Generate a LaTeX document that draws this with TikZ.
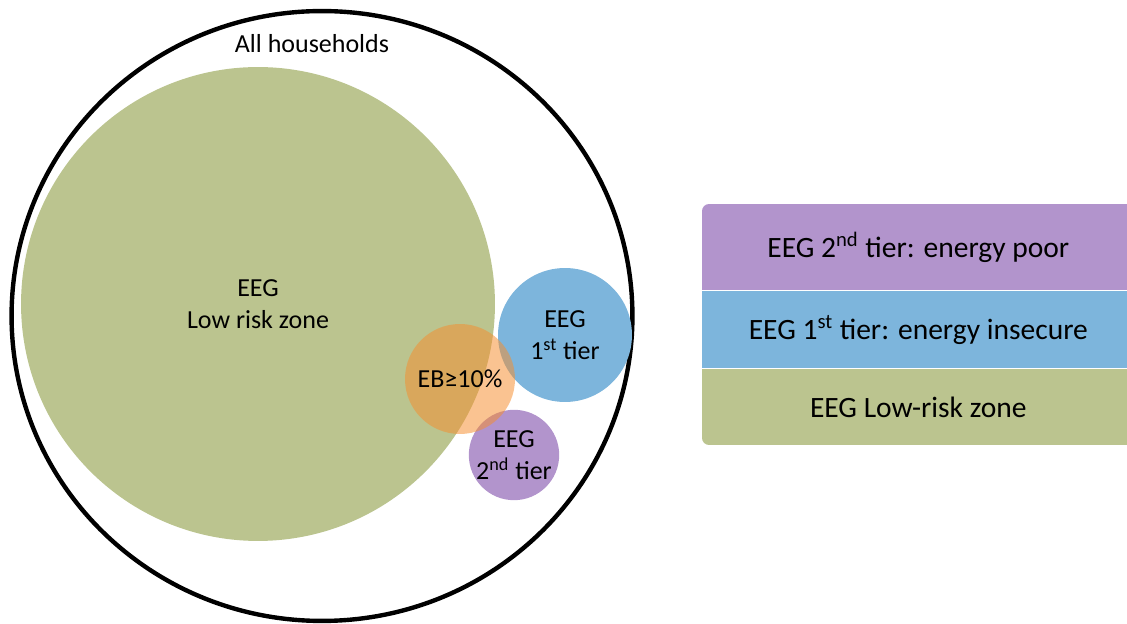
\documentclass[tikz,border=0pt]{standalone}
\usepackage{fontspec}
\setmainfont{Carlito}
\usetikzlibrary{positioning,shapes.geometric}
\definecolor{lowgreen}{RGB}{187,196,143}
\definecolor{tierblue}{RGB}{125,181,220}
\definecolor{tierpurple}{RGB}{178,148,204}
\definecolor{burdenorange}{RGB}{245,142,47}
\begin{document}
\begin{tikzpicture}[x=0.02cm, y=-0.02cm,
                    set/.style = {circle, inner sep=0pt, align=center, font=\fontsize{14.8}{18.5}\selectfont},
                    legend/.style = {rectangle, inner sep=0pt, minimum width=8.64cm, font=\fontsize{16.8}{20}\selectfont}]
                    \useasboundingbox (0,0) rectangle (1127,624);

                    \node [ellipse, draw, line width=2.5pt, inner sep=0pt, minimum width=12.42cm, minimum height=12.2cm] (all) at (322,316) {};
                    \node [font=\fontsize{14.8}{18.5}\selectfont] (alllabel) at (312,44) {All households};

                    \node [set, fill=lowgreen, minimum size=9.48cm] (low) at (258,304) {EEG\\Low risk zone};
                    \node [set, fill=tierblue, minimum size=2.68cm] (first) at (565,335) {EEG\\1\textsuperscript{st} tier};
                    \node [set, fill=tierpurple, minimum size=1.7cm] (second) at (514,455) {EEG\\2\textsuperscript{nd} tier};
                    \node [set, fill=burdenorange, fill opacity=0.53, text opacity=1, minimum size=2.2cm] (burden) at (460,379) {EB≥10\%};

                    \begin{scope}
                    \clip [rounded corners=4pt] (702,204) rectangle (1134,445);
                    \node [legend, fill=tierpurple, minimum height=1.72cm, anchor=north west] (poor) at (702,204) {EEG 2\textsuperscript{nd} tier: energy poor};
                    \node [legend, fill=tierblue, minimum height=1.54cm, below=0pt of poor] (insecure) {EEG 1\textsuperscript{st} tier: energy insecure};
                    \node [legend, fill=lowgreen, minimum height=1.56cm, below=0pt of insecure] (lowrisk) {EEG Low-risk zone};
                    \end{scope}
                \end{tikzpicture}
\end{document}
